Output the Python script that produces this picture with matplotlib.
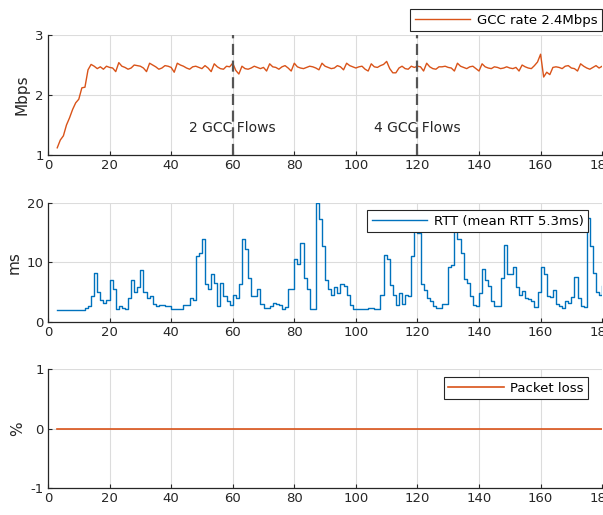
import numpy as np
import matplotlib
matplotlib.use("Agg")
import matplotlib.pyplot as plt

#### GCC rate / RTT / packet loss over time (3 stacked panels) ####

# GCC sending rate in Mbps, one sample per second starting at t = 3 s
gcc_rate = [
    1.12, 1.25, 1.32, 1.50, 1.62, 1.76, 1.87, 1.93, 2.12, 2.13,   # 3-12
    2.42, 2.51, 2.48, 2.44, 2.47, 2.43, 2.48, 2.46, 2.45, 2.39,   # 13-22
    2.54, 2.48, 2.46, 2.43, 2.45, 2.50, 2.49, 2.48, 2.45, 2.39,   # 23-32
    2.53, 2.50, 2.47, 2.43, 2.45, 2.49, 2.48, 2.46, 2.38, 2.53,   # 33-42
    2.50, 2.48, 2.45, 2.43, 2.47, 2.48, 2.46, 2.44, 2.49, 2.45,   # 43-52
    2.39, 2.52, 2.47, 2.44, 2.43, 2.48, 2.47, 2.53, 2.41, 2.35,   # 53-62
    2.48, 2.44, 2.43, 2.45, 2.48, 2.46, 2.44, 2.46, 2.40, 2.52,   # 63-72
    2.47, 2.46, 2.43, 2.47, 2.49, 2.45, 2.40, 2.53, 2.47, 2.45,   # 73-82
    2.44, 2.46, 2.48, 2.47, 2.45, 2.42, 2.53, 2.48, 2.46, 2.44,   # 83-92
    2.45, 2.49, 2.47, 2.42, 2.53, 2.49, 2.47, 2.45, 2.47, 2.48,   # 93-102
    2.43, 2.40, 2.52, 2.47, 2.46, 2.49, 2.51, 2.56, 2.44, 2.37,   # 103-112
    2.37, 2.45, 2.48, 2.44, 2.43, 2.48, 2.46, 2.48, 2.47, 2.40,   # 113-122
    2.53, 2.47, 2.44, 2.43, 2.47, 2.47, 2.48, 2.46, 2.45, 2.40,   # 123-132
    2.53, 2.48, 2.46, 2.44, 2.47, 2.48, 2.44, 2.40, 2.52, 2.47,   # 133-142
    2.45, 2.44, 2.47, 2.46, 2.44, 2.45, 2.47, 2.45, 2.44, 2.46,   # 143-152
    2.40, 2.50, 2.47, 2.45, 2.44, 2.49, 2.55, 2.68, 2.30, 2.38,   # 153-162
    2.34, 2.46, 2.47, 2.46, 2.44, 2.48, 2.49, 2.45, 2.44, 2.40,   # 163-172
    2.52, 2.48, 2.45, 2.43, 2.46, 2.49, 2.45, 2.48,               # 173-180
]

# RTT in ms, one sample per second starting at t = 3 s
rtt = [
    2.0, 2.0, 2.0, 2.0, 2.0, 2.0, 2.0, 2.0, 2.0, 2.3,             # 3-12
    2.6, 4.3, 8.2, 5.0, 3.6, 3.1, 3.6, 7.0, 5.5, 2.2,             # 13-22
    2.6, 2.3, 2.1, 4.0, 7.1, 5.0, 5.8, 8.8, 5.0, 4.0,             # 23-32
    4.3, 3.0, 2.6, 2.9, 2.8, 2.6, 2.6, 2.2, 2.1, 2.1,             # 33-42
    2.1, 2.8, 2.8, 4.0, 3.7, 11.0, 11.5, 13.9, 6.3, 5.5,          # 43-52
    8.0, 6.5, 2.7, 6.5, 4.3, 3.5, 2.9, 4.5, 4.0, 6.3,             # 53-62
    14.0, 12.3, 7.3, 4.4, 4.3, 5.5, 3.0, 2.4, 2.3, 2.6,           # 63-72
    3.1, 3.0, 2.9, 2.2, 2.5, 5.6, 5.6, 10.5, 9.8, 13.3,           # 73-82
    7.4, 5.5, 2.1, 2.1, 20.0, 17.3, 12.8, 7.0, 5.5, 4.5,          # 83-92
    5.8, 4.8, 6.3, 6.0, 4.5, 2.9, 2.1, 2.1, 2.1, 2.1,             # 93-102
    2.1, 2.3, 2.3, 2.2, 2.1, 4.5, 11.3, 10.6, 6.2, 4.5,           # 103-112
    2.8, 4.8, 3.0, 4.5, 4.3, 11.0, 15.5, 15.0, 6.3, 5.3,          # 113-122
    4.0, 3.5, 2.6, 2.3, 2.3, 3.0, 3.0, 9.3, 9.5, 15.5,            # 123-132
    14.0, 11.5, 7.2, 6.5, 4.3, 2.8, 2.7, 4.8, 8.9, 7.0,           # 133-142
    6.0, 3.5, 2.7, 2.7, 7.3, 13.0, 8.1, 8.1, 9.2, 5.8,            # 143-152
    4.5, 5.2, 4.0, 3.8, 3.5, 2.5, 5.0, 9.3, 8.0, 4.3,             # 153-162
    4.2, 5.3, 3.0, 2.7, 2.3, 3.5, 3.2, 4.2, 7.5, 4.0,             # 163-172
    2.7, 2.5, 17.5, 12.8, 8.2, 5.0, 4.5, 6.0,                     # 173-180
]

t_gcc = np.arange(3, 3 + len(gcc_rate))
t_rtt = np.arange(3, 3 + len(rtt))

loss_t = [3, 180]
loss_pct = [0, 0]

flow_changes = [60, 120]
flow_labels = ['2 GCC Flows', '4 GCC Flows']

orange = '#D95319'
blue = '#0072BD'
dark = '#262626'

plt.rcParams['font.family'] = 'DejaVu Sans'
plt.rcParams['axes.unicode_minus'] = False

fig = plt.figure(figsize=(6.03, 5.15), dpi=100)
ax1 = fig.add_axes([0.0796, 0.699, 0.919, 0.233])
ax2 = fig.add_axes([0.0796, 0.375, 0.919, 0.231])
ax3 = fig.add_axes([0.0796, 0.0524, 0.919, 0.231])


def style(ax):
    ax.set_xlim(0, 180)
    ax.set_xticks(range(0, 181, 20))
    ax.grid(True, color='#dcdcdc', linewidth=0.8)
    ax.set_axisbelow(True)
    for s in ['top', 'right']:
        ax.spines[s].set_visible(False)
    for s in ['left', 'bottom']:
        ax.spines[s].set_color(dark)
        ax.spines[s].set_linewidth(0.9)
    ax.tick_params(direction='in', length=3, width=0.8, colors=dark,
                   labelsize=9.5, pad=3)


def add_legend(ax, anchor):
    leg = ax.legend(loc='upper right', bbox_to_anchor=anchor, borderaxespad=0,
                    fontsize=9.5, fancybox=False, framealpha=1, edgecolor=dark,
                    handlelength=4.2, handletextpad=0.5, borderpad=0.35)
    leg.get_frame().set_linewidth(0.8)


# top panel: GCC rate
ax1.plot(t_gcc, gcc_rate, color=orange, lw=1.0, label='GCC rate 2.4Mbps')
for xc, lab in zip(flow_changes, flow_labels):
    ax1.axvline(xc, color='#555555', lw=1.6, dashes=(5, 2.5), zorder=5)
    ax1.text(xc, 1.45, lab, ha='center', va='center', fontsize=10,
             color=dark, zorder=4)
ax1.set_ylim(1, 3)
ax1.set_yticks([1, 2, 3])
ax1.set_ylabel('Mbps', fontsize=11, color=dark, labelpad=4)
style(ax1)
add_legend(ax1, (1.0, 1.217))

# middle panel: RTT
ax2.plot(t_rtt, rtt, color=blue, lw=1.0, drawstyle='steps-post',
         label='RTT (mean RTT 5.3ms)')
ax2.set_ylim(0, 20)
ax2.set_yticks([0, 10, 20])
ax2.set_ylabel('ms', fontsize=11, color=dark, labelpad=4)
style(ax2)
add_legend(ax2, (0.975, 0.941))

# bottom panel: packet loss
ax3.plot(loss_t, loss_pct, color=orange, lw=1.2, label='Packet loss')
ax3.set_ylim(-1, 1)
ax3.set_yticks([-1, 0, 1])
ax3.set_ylabel('%', fontsize=11, color=dark, labelpad=4)
style(ax3)
add_legend(ax3, (0.975, 0.933))

fig.savefig('out.png', dpi=100)
